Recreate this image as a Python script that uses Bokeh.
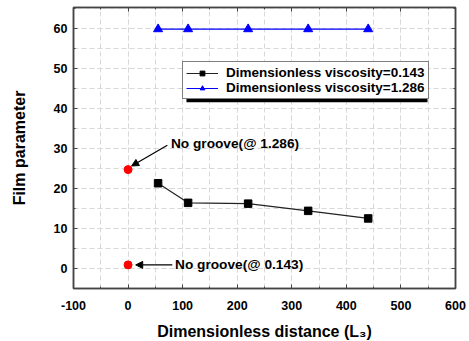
from bokeh.plotting import figure
from bokeh.models import (Range1d, SingleIntervalTicker, LinearAxis, Legend, LegendItem,
                          Arrow, NormalHead, Label, BoxAnnotation, CustomJSTickFormatter)
from bokeh.embed import file_html
from bokeh.resources import INLINE

# data
dist = [55, 110, 220, 330, 440]
film_0143 = [21.3, 16.4, 16.2, 14.4, 12.5]
film_1286 = [59.8, 59.8, 59.8, 59.8, 59.8]
nogroove_x = [0, 0]
nogroove_y = [24.7, 0.9]
labels = ["Dimensionless viscosity=0.143", "Dimensionless viscosity=1.286"]
notes = ["No groove(@ 1.286)", "No groove(@ 0.143)"]

FONT = "Liberation Sans"
AX = "#444444"

p = figure(frame_width=382, frame_height=281, output_backend="svg", toolbar_location=None,
           x_range=Range1d(-100, 600), y_range=Range1d(-5, 65.2),
           min_border_left=73, min_border_right=14, min_border_top=7, min_border_bottom=53,
           background_fill_color="white", border_fill_color="white")
p.outline_line_color = AX
p.outline_line_width = 1.5

xt = SingleIntervalTicker(interval=100, num_minor_ticks=2)
yt = SingleIntervalTicker(interval=10, num_minor_ticks=2)
p.xaxis.ticker = xt
p.yaxis.ticker = yt
fmt = CustomJSTickFormatter(code="return tick.toFixed(0);")
p.xaxis.formatter = fmt
p.yaxis.formatter = fmt

for ax in (p.xaxis[0], p.yaxis[0]):
    ax.axis_line_color = AX
    ax.axis_line_width = 1.5
    ax.major_tick_line_color = AX
    ax.minor_tick_line_color = AX
    ax.major_tick_in = 4
    ax.major_tick_out = 0
    ax.minor_tick_in = 2
    ax.minor_tick_out = 0
    ax.major_label_text_font = FONT
    ax.major_label_text_font_style = "bold"
    ax.major_label_text_font_size = "12.5px"
    ax.major_label_text_color = "black"
    ax.axis_label_text_font = FONT
    ax.axis_label_text_font_style = "bold"
    ax.axis_label_text_font_size = "16px"
    ax.axis_label_text_color = "black"

p.xaxis.axis_label = "Dimensionless distance (L\u2083)"
p.yaxis.axis_label = "Film parameter"
p.xaxis.major_label_standoff = 12
p.yaxis.major_label_standoff = 6
p.xaxis.axis_label_standoff = 10
p.yaxis.axis_label_standoff = 23

# mirrored axes (ticks only)
for loc, tk in (("above", xt), ("right", yt)):
    a = LinearAxis(ticker=tk)
    a.axis_line_color = AX
    a.axis_line_width = 1.5
    a.major_tick_line_color = AX
    a.minor_tick_line_color = AX
    a.major_tick_in = 4
    a.major_tick_out = 0
    a.minor_tick_in = 2
    a.minor_tick_out = 0
    a.major_label_text_font_size = "1px"
    a.major_label_text_color = None
    a.major_label_standoff = 0
    p.add_layout(a, loc)

for g in (p.xgrid[0], p.ygrid[0]):
    g.grid_line_color = "#d8d8d8"
    g.grid_line_dash = "5 3"
    g.minor_grid_line_color = "#d8d8d8"
    g.minor_grid_line_dash = "5 3"

l1 = p.line(dist, film_0143, line_color="#222222", line_width=1.2)
s1 = p.scatter(dist, film_0143, marker="square", size=7.5, color="black")
l2 = p.line(dist, film_1286, line_color="blue", line_width=1.2)
s2 = p.scatter(dist, film_1286, marker="triangle", size=9, color="blue")
p.scatter(nogroove_x, nogroove_y, marker="circle", size=8, color="red")

# legend shadow
shadow = BoxAnnotation(left=107, right=548.7, top=51.2, bottom=41.5,
                       fill_color="black", fill_alpha=1, line_color=None)
p.add_layout(shadow)

legend = Legend(items=[LegendItem(label=labels[0], renderers=[l1, s1]),
                       LegendItem(label=labels[1], renderers=[l2, s2])],
                location=(109, 189), orientation="vertical",
                label_text_font=FONT, label_text_font_style="bold",
                label_text_font_size="13.5px", label_text_color="black",
                border_line_color="black", border_line_width=1,
                background_fill_color="white", background_fill_alpha=1,
                glyph_width=32, glyph_height=12, label_height=12,
                label_standoff=8, spacing=0, padding=3, margin=0)
p.add_layout(legend, "center")

# annotations
head = dict(size=7, fill_color="black", line_color="black")
p.add_layout(Arrow(end=NormalHead(**head), x_start=72, y_start=30.8, x_end=6.5, y_end=25.6,
                   line_color="black", line_width=1.2))
p.add_layout(Arrow(end=NormalHead(**head), x_start=81, y_start=0.9, x_end=14, y_end=0.9,
                   line_color="black", line_width=1.2))
p.add_layout(Label(x=78.5, y=31.2, text=notes[0], text_font=FONT, text_font_style="bold",
                   text_font_size="13.7px", text_baseline="middle", text_color="black"))
p.add_layout(Label(x=86, y=0.9, text=notes[1], text_font=FONT, text_font_style="bold",
                   text_font_size="13.7px", text_baseline="middle", text_color="black"))

open("out.html", "w").write(file_html(p, INLINE))
